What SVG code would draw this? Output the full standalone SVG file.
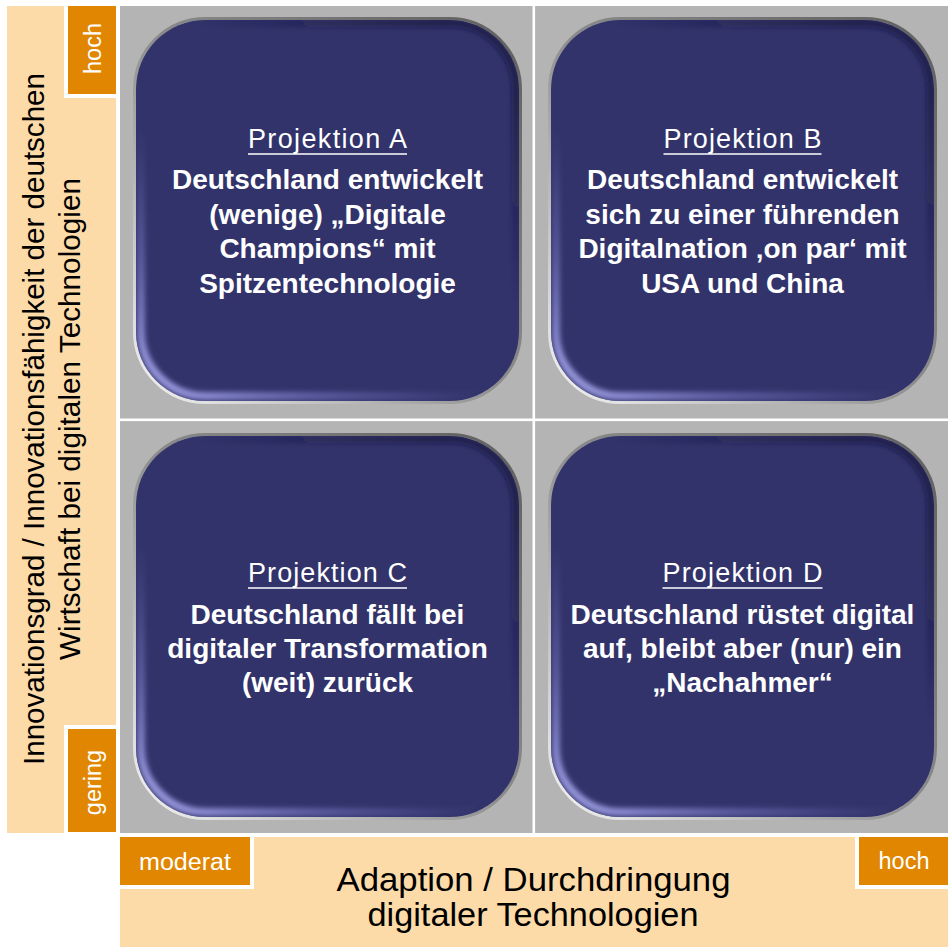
<svg xmlns="http://www.w3.org/2000/svg" width="952" height="947" viewBox="0 0 952 947">
<style>
text{font-family:"Liberation Sans",Arial,sans-serif}
.band{fill:#FDDBA8}
.panel{fill:#B4B4B4}
.sep{fill:#FFFFFF}
.tag{fill:#E08600;stroke:#FFFFFF;stroke-width:4}
.tagtxt{font-size:23.5px;fill:#FFFFFF;text-anchor:middle}
.axis{font-size:30px;fill:#000000;text-anchor:middle}
.rim{fill:none;stroke:url(#rimGrad);stroke-width:3}
.face{fill:#32336A}
.hi{fill:none;stroke:url(#hiGrad);stroke-width:8;filter:url(#soft)}
.sh{fill:none;stroke:url(#shGrad);stroke-width:8;filter:url(#soft)}
.title{font-size:27px;fill:#FFFFFF;text-anchor:middle}
.body{font-size:28px;font-weight:bold;fill:#FFFFFF;text-anchor:middle}
.ul{stroke:#FFFFFF;stroke-width:1.6}
</style>
<defs>
<linearGradient id="rimGrad" x1="1" y1="0" x2="0" y2="1">
<stop offset="0" stop-color="#5E5E5E"/>
<stop offset="0.5" stop-color="#8C8C8C"/>
<stop offset="1" stop-color="#F4F4F4"/>
</linearGradient>
<linearGradient id="hiGrad" x1="0.8" y1="0.1" x2="0.1" y2="1">
<stop offset="0" stop-color="#7070C0" stop-opacity="0"/>
<stop offset="0.55" stop-color="#6A6AB8" stop-opacity="0"/>
<stop offset="0.8" stop-color="#7C7CC8" stop-opacity="0.55"/>
<stop offset="1" stop-color="#A4A4EC" stop-opacity="0.9"/>
</linearGradient>
<linearGradient id="shGrad" x1="0.2" y1="0.9" x2="0.9" y2="0.1">
<stop offset="0" stop-color="#14143A" stop-opacity="0"/>
<stop offset="0.6" stop-color="#14143A" stop-opacity="0"/>
<stop offset="1" stop-color="#14143A" stop-opacity="0.6"/>
</linearGradient>
<filter id="soft" x="-10%" y="-10%" width="120%" height="120%"><feGaussianBlur stdDeviation="2.5"/></filter>
<clipPath id="cardClip"><rect x="3" y="3" width="383" height="381" rx="69"/></clipPath>
</defs>

<rect x="0" y="0" width="952" height="947" fill="#FFFFFF"/>

<g id="axis-y">
<rect class="band" x="7" y="6" width="109" height="827"/>
<text class="axis" transform="translate(43.5,419) rotate(-90)" textLength="692" lengthAdjust="spacingAndGlyphs">Innovationsgrad / Innovationsfähigkeit der deutschen</text>
<text class="axis" transform="translate(79.5,419) rotate(-90)" textLength="482" lengthAdjust="spacingAndGlyphs">Wirtschaft bei digitalen Technologien</text>
</g>
<g id="tag-y-hoch">
<rect class="tag" x="66" y="4" width="52" height="92"/>
<text class="tagtxt" transform="translate(101,48.5) rotate(-90)">hoch</text>
</g>
<g id="tag-y-gering">
<rect class="tag" x="66" y="727" width="52" height="107"/>
<text class="tagtxt" transform="translate(101,782.5) rotate(-90)">gering</text>
</g>

<g id="axis-x">
<rect class="band" x="120" y="837" width="828" height="110"/>
<text class="axis" x="533.5" y="891" style="font-size:33px" textLength="394" lengthAdjust="spacingAndGlyphs">Adaption / Durchdringung</text>
<text class="axis" x="533" y="926" style="font-size:33px" textLength="331" lengthAdjust="spacingAndGlyphs">digitaler Technologien</text>
</g>
<g id="tag-x-moderat">
<rect class="tag" x="118" y="835" width="134" height="52"/>
<text class="tagtxt" x="185" y="870" textLength="92" lengthAdjust="spacingAndGlyphs">moderat</text>
</g>
<g id="tag-x-hoch">
<rect class="tag" x="857" y="835" width="93" height="52"/>
<text class="tagtxt" x="904" y="869">hoch</text>
</g>

<g id="matrix">
<rect class="panel" x="120" y="6" width="828" height="827"/>
<rect class="sep" x="532.5" y="6" width="2.6" height="827"/>
<rect class="sep" x="120" y="418.5" width="828" height="2.6"/>
</g>

<g id="projektion-a" transform="translate(133,17)">
<rect class="rim" x="1.5" y="1.5" width="386" height="384" rx="71"/>
<rect class="face" x="3" y="3" width="383" height="381" rx="69"/>
<g clip-path="url(#cardClip)">
<rect class="sh" x="6" y="6" width="377" height="375" rx="66"/>
<rect class="hi" x="8" y="8" width="373" height="371" rx="64"/>
</g>
<text class="title" x="194.5" y="131" textLength="159" lengthAdjust="spacing">Projektion A</text>
<line class="ul" x1="115" y1="137" x2="274" y2="137"/>
<text class="body" x="194.5" y="172">Deutschland entwickelt</text>
<text class="body" x="194.5" y="206.5">(wenige) „Digitale</text>
<text class="body" x="194.5" y="241">Champions“ mit</text>
<text class="body" x="194.5" y="275.5">Spitzentechnologie</text>
</g>

<g id="projektion-b" transform="translate(548,17)">
<rect class="rim" x="1.5" y="1.5" width="386" height="384" rx="71"/>
<rect class="face" x="3" y="3" width="383" height="381" rx="69"/>
<g clip-path="url(#cardClip)">
<rect class="sh" x="6" y="6" width="377" height="375" rx="66"/>
<rect class="hi" x="8" y="8" width="373" height="371" rx="64"/>
</g>
<text class="title" x="194.5" y="131" textLength="158" lengthAdjust="spacing">Projektion B</text>
<line class="ul" x1="115.5" y1="137" x2="273.5" y2="137"/>
<text class="body" x="194.5" y="172">Deutschland entwickelt</text>
<text class="body" x="194.5" y="206.5">sich zu einer führenden</text>
<text class="body" x="194.5" y="241">Digitalnation ‚on par‘ mit</text>
<text class="body" x="194.5" y="275.5">USA und China</text>
</g>

<g id="projektion-c" transform="translate(133,433)">
<rect class="rim" x="1.5" y="1.5" width="386" height="384" rx="71"/>
<rect class="face" x="3" y="3" width="383" height="381" rx="69"/>
<g clip-path="url(#cardClip)">
<rect class="sh" x="6" y="6" width="377" height="375" rx="66"/>
<rect class="hi" x="8" y="8" width="373" height="371" rx="64"/>
</g>
<text class="title" x="194.5" y="149" textLength="159" lengthAdjust="spacing">Projektion C</text>
<line class="ul" x1="115" y1="155" x2="274" y2="155"/>
<text class="body" x="194.5" y="191">Deutschland fällt bei</text>
<text class="body" x="194.5" y="225">digitaler Transformation</text>
<text class="body" x="194.5" y="259">(weit) zurück</text>
</g>

<g id="projektion-d" transform="translate(548,433)">
<rect class="rim" x="1.5" y="1.5" width="386" height="384" rx="71"/>
<rect class="face" x="3" y="3" width="383" height="381" rx="69"/>
<g clip-path="url(#cardClip)">
<rect class="sh" x="6" y="6" width="377" height="375" rx="66"/>
<rect class="hi" x="8" y="8" width="373" height="371" rx="64"/>
</g>
<text class="title" x="194.5" y="149" textLength="160" lengthAdjust="spacing">Projektion D</text>
<line class="ul" x1="114.5" y1="155" x2="274.5" y2="155"/>
<text class="body" x="194.5" y="191">Deutschland rüstet digital</text>
<text class="body" x="194.5" y="225">auf, bleibt aber (nur) ein</text>
<text class="body" x="194.5" y="259">„Nachahmer“</text>
</g>

<g id="connectors"></g>
</svg>
